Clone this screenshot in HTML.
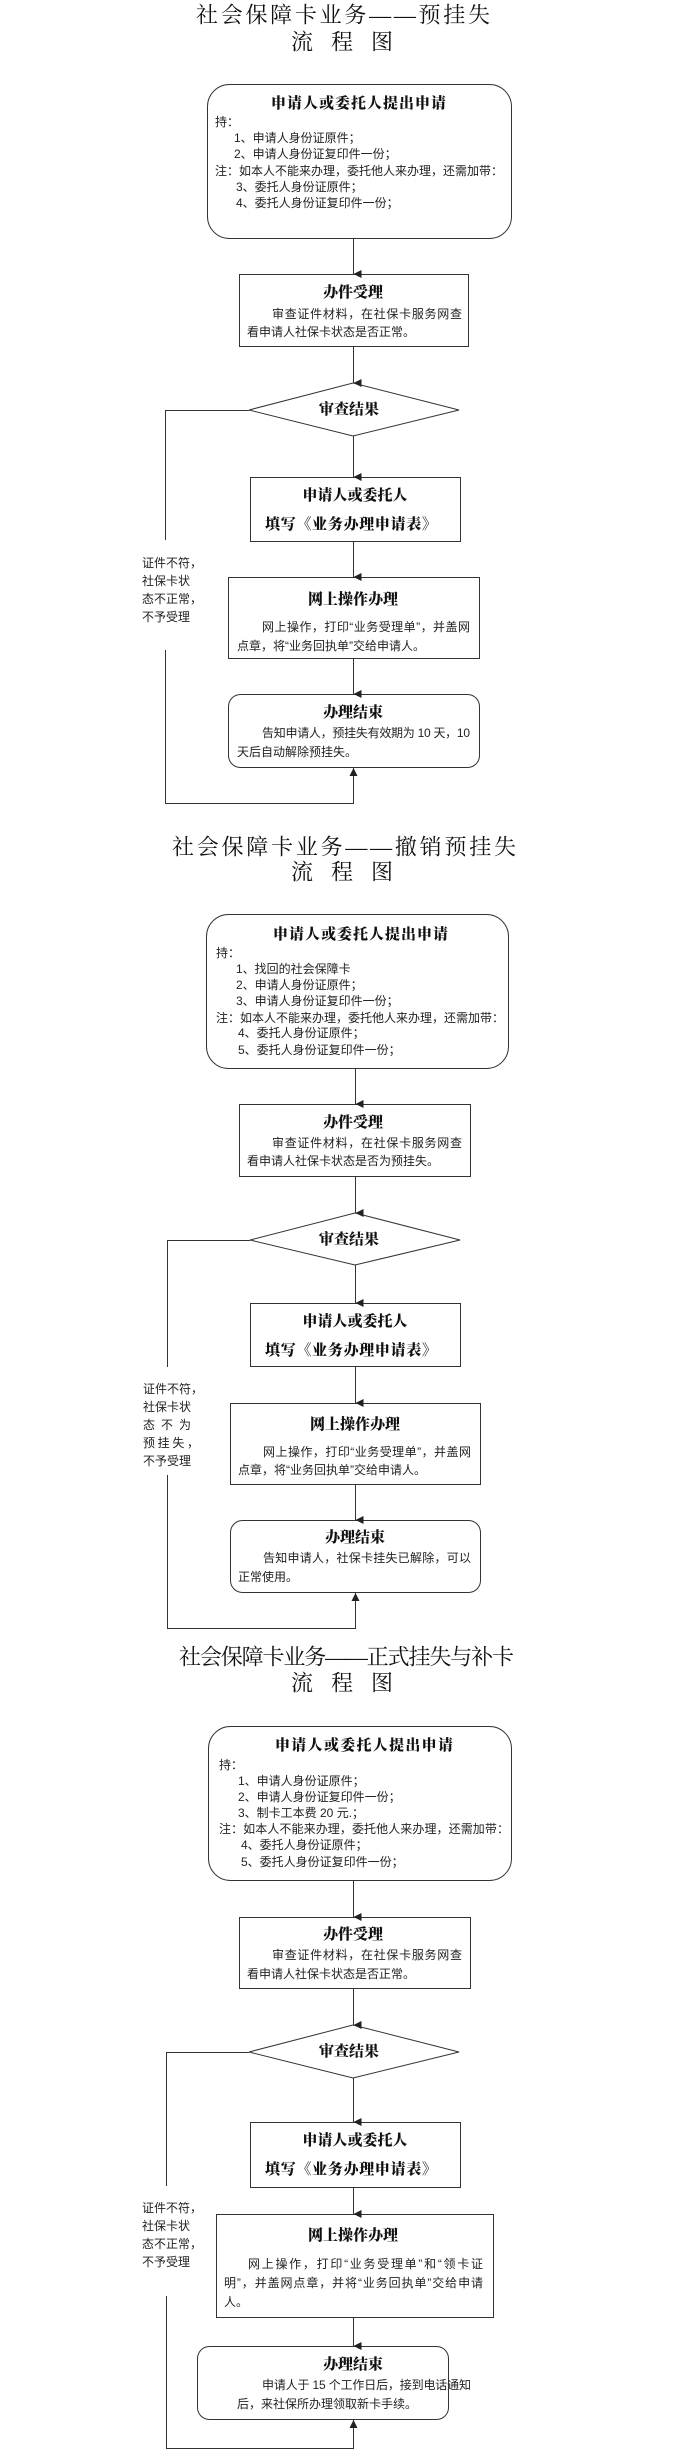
<!DOCTYPE html>
<html><head><meta charset="utf-8"><style>
html,body{margin:0;padding:0;background:#fff;}
svg{display:block;}
.t{font-family:"Liberation Serif","Noto Serif CJK SC",serif;font-size:22px;fill:#111;}
.h{font-family:"Liberation Serif","Noto Serif CJK SC",serif;font-size:15px;font-weight:900;fill:#111;}
.b{font-family:"Liberation Sans","Noto Sans CJK SC",sans-serif;font-size:12px;fill:#222;}
</style></head><body>
<svg width="690" height="2458" viewBox="0 0 690 2458" xmlns="http://www.w3.org/2000/svg">
<defs><marker id="a" markerWidth="8" markerHeight="8" refX="4" refY="8" orient="auto" markerUnits="userSpaceOnUse"><path d="M0,0 L8,0 L4,8 z" fill="#222" transform="rotate(0)"/></marker>
<marker id="u" markerWidth="8" markerHeight="8" refX="4" refY="0" markerUnits="userSpaceOnUse"><path d="M0,8 L8,8 L4,0 z" fill="#222"/></marker></defs>
<g dominant-baseline="central" stroke="none">
<!-- Section 1 -->
<text class="t" x="196" y="15" textLength="294" lengthAdjust="spacing">社会保障卡业务——预挂失</text>
<text class="t" x="302" y="42" text-anchor="middle">流</text><text class="t" x="342" y="42" text-anchor="middle">程</text><text class="t" x="382" y="42" text-anchor="middle">图</text>
<text class="h" x="271" y="104" textLength="175" lengthAdjust="spacing">申请人或委托人提出申请</text>
<text class="b" x="215" y="122">持：</text>
<text class="b" x="234" y="138">1、申请人身份证原件；</text>
<text class="b" x="234" y="154">2、申请人身份证复印件一份；</text>
<text class="b" x="215" y="171" textLength="288" lengthAdjust="spacing">注：如本人不能来办理，委托他人来办理，还需加带：</text>
<text class="b" x="236" y="187">3、委托人身份证原件；</text>
<text class="b" x="236" y="203">4、委托人身份证复印件一份；</text>
<text class="h" x="353" y="293" text-anchor="middle">办件受理</text>
<text class="b" x="272" y="314" textLength="190" lengthAdjust="spacing">审查证件材料，在社保卡服务网查</text>
<text class="b" x="247" y="332">看申请人社保卡状态是否正常。</text>
<text class="h" x="349" y="410" text-anchor="middle">审查结果</text>
<text class="h" x="355" y="496" text-anchor="middle">申请人或委托人</text>
<text class="h" x="265" y="525" textLength="172" lengthAdjust="spacing">填写《业务办理申请表》</text>
<text class="h" x="353" y="600" text-anchor="middle">网上操作办理</text>
<text class="b" x="262" y="627" textLength="208" lengthAdjust="spacing">网上操作，打印“业务受理单”，并盖网</text>
<text class="b" x="237" y="646">点章，将“业务回执单”交给申请人。</text>
<text class="h" x="353" y="713" text-anchor="middle">办理结束</text>
<text class="b" x="262" y="733" textLength="208" lengthAdjust="spacing">告知申请人，预挂失有效期为 10 天，10</text>
<text class="b" x="237" y="752">天后自动解除预挂失。</text>
<text class="b" x="142" y="563">证件不符，</text><text class="b" x="142" y="581">社保卡状</text><text class="b" x="142" y="599">态不正常，</text><text class="b" x="142" y="617">不予受理</text>
<!-- Section 2 -->
<text class="t" x="172" y="847" textLength="344" lengthAdjust="spacing">社会保障卡业务——撤销预挂失</text>
<text class="t" x="302" y="872" text-anchor="middle">流</text><text class="t" x="342" y="872" text-anchor="middle">程</text><text class="t" x="382" y="872" text-anchor="middle">图</text>
<text class="h" x="273" y="935" textLength="175" lengthAdjust="spacing">申请人或委托人提出申请</text>
<text class="b" x="216" y="953">持：</text>
<text class="b" x="236" y="969">1、找回的社会保障卡</text>
<text class="b" x="236" y="985">2、申请人身份证原件；</text>
<text class="b" x="236" y="1001">3、申请人身份证复印件一份；</text>
<text class="b" x="216" y="1018" textLength="288" lengthAdjust="spacing">注：如本人不能来办理，委托他人来办理，还需加带：</text>
<text class="b" x="238" y="1033">4、委托人身份证原件；</text>
<text class="b" x="238" y="1050">5、委托人身份证复印件一份；</text>
<text class="h" x="353" y="1123" text-anchor="middle">办件受理</text>
<text class="b" x="272" y="1143" textLength="190" lengthAdjust="spacing">审查证件材料，在社保卡服务网查</text>
<text class="b" x="247" y="1161">看申请人社保卡状态是否为预挂失。</text>
<text class="h" x="349" y="1240" text-anchor="middle">审查结果</text>
<text class="h" x="355" y="1322" text-anchor="middle">申请人或委托人</text>
<text class="h" x="265" y="1351" textLength="172" lengthAdjust="spacing">填写《业务办理申请表》</text>
<text class="h" x="355" y="1425" text-anchor="middle">网上操作办理</text>
<text class="b" x="263" y="1452" textLength="208" lengthAdjust="spacing">网上操作，打印“业务受理单”，并盖网</text>
<text class="b" x="238" y="1470">点章，将“业务回执单”交给申请人。</text>
<text class="h" x="355" y="1538" text-anchor="middle">办理结束</text>
<text class="b" x="263" y="1558" textLength="208" lengthAdjust="spacing">告知申请人，社保卡挂失已解除，可以</text>
<text class="b" x="238" y="1577">正常使用。</text>
<text class="b" x="143" y="1389">证件不符，</text><text class="b" x="143" y="1407">社保卡状</text><text class="b" x="143" y="1425" textLength="48" lengthAdjust="spacing">态不为</text><text class="b" x="143" y="1443" textLength="56" lengthAdjust="spacing">预挂失，</text><text class="b" x="143" y="1461">不予受理</text>
<!-- Section 3 -->
<text class="t" x="179" y="1657" textLength="335" lengthAdjust="spacing">社会保障卡业务——正式挂失与补卡</text>
<text class="t" x="302" y="1683" text-anchor="middle">流</text><text class="t" x="342" y="1683" text-anchor="middle">程</text><text class="t" x="382" y="1683" text-anchor="middle">图</text>
<text class="h" x="275" y="1746" textLength="178" lengthAdjust="spacing">申请人或委托人提出申请</text>
<text class="b" x="219" y="1765">持：</text>
<text class="b" x="238" y="1781">1、申请人身份证原件；</text>
<text class="b" x="238" y="1797">2、申请人身份证复印件一份；</text>
<text class="b" x="238" y="1813">3、制卡工本费 20 元.；</text>
<text class="b" x="219" y="1829" textLength="290" lengthAdjust="spacing">注：如本人不能来办理，委托他人来办理，还需加带：</text>
<text class="b" x="241" y="1845">4、委托人身份证原件；</text>
<text class="b" x="241" y="1862">5、委托人身份证复印件一份；</text>
<text class="h" x="353" y="1935" text-anchor="middle">办件受理</text>
<text class="b" x="272" y="1955" textLength="190" lengthAdjust="spacing">审查证件材料，在社保卡服务网查</text>
<text class="b" x="247" y="1974">看申请人社保卡状态是否正常。</text>
<text class="h" x="349" y="2052" text-anchor="middle">审查结果</text>
<text class="h" x="355" y="2141" text-anchor="middle">申请人或委托人</text>
<text class="h" x="265" y="2170" textLength="172" lengthAdjust="spacing">填写《业务办理申请表》</text>
<text class="h" x="353" y="2236" text-anchor="middle">网上操作办理</text>
<text class="b" x="248" y="2264" textLength="235" lengthAdjust="spacing">网上操作，打印“业务受理单”和“领卡证</text>
<text class="b" x="224" y="2283" textLength="259" lengthAdjust="spacing">明”，并盖网点章，并将“业务回执单”交给申请</text>
<text class="b" x="224" y="2302">人。</text>
<text class="h" x="353" y="2365" text-anchor="middle">办理结束</text>
<text class="b" x="262" y="2385" textLength="209" lengthAdjust="spacing">申请人于 15 个工作日后，接到电话通知</text>
<text class="b" x="237" y="2404">后，来社保所办理领取新卡手续。</text>
<text class="b" x="142" y="2208">证件不符，</text><text class="b" x="142" y="2226">社保卡状</text><text class="b" x="142" y="2244">态不正常，</text><text class="b" x="142" y="2262">不予受理</text>
</g>
<g fill="none" stroke="#333" stroke-width="1">
<!-- S1 shapes -->
<rect x="207.5" y="84.5" width="304" height="154" rx="22"/>
<rect x="239.5" y="274.5" width="229" height="72"/>
<polygon points="353,383 459,410 353,436 249,410"/>
<rect x="250.5" y="477.5" width="210" height="64"/>
<rect x="228.5" y="577.5" width="251" height="81"/>
<rect x="228.5" y="694.5" width="251" height="73" rx="12"/>
<line x1="353.5" y1="238" x2="353.5" y2="274" marker-end="url(#a)"/>
<line x1="353.5" y1="346" x2="353.5" y2="383" marker-end="url(#a)"/>
<line x1="353.5" y1="436" x2="353.5" y2="477" marker-end="url(#a)"/>
<line x1="353.5" y1="541" x2="353.5" y2="577" marker-end="url(#a)"/>
<line x1="353.5" y1="658" x2="353.5" y2="694" marker-end="url(#a)"/>
<polyline points="249,410.5 165.5,410.5 165.5,540"/>
<polyline points="165.5,650 165.5,803.5 353.5,803.5 353.5,768" marker-end="url(#u)"/>
<!-- S2 -->
<rect x="206.5" y="914.5" width="302" height="154" rx="22"/>
<rect x="239.5" y="1104.5" width="231" height="72"/>
<polygon points="355,1213 460,1240 355,1265 250,1240"/>
<rect x="250.5" y="1303.5" width="210" height="63"/>
<rect x="230.5" y="1403.5" width="250" height="81"/>
<rect x="230.5" y="1520.5" width="250" height="72" rx="12"/>
<line x1="355.5" y1="1068" x2="355.5" y2="1104" marker-end="url(#a)"/>
<line x1="355.5" y1="1176" x2="355.5" y2="1213" marker-end="url(#a)"/>
<line x1="355.5" y1="1265" x2="355.5" y2="1303" marker-end="url(#a)"/>
<line x1="355.5" y1="1366" x2="355.5" y2="1403" marker-end="url(#a)"/>
<line x1="355.5" y1="1484" x2="355.5" y2="1520" marker-end="url(#a)"/>
<polyline points="250,1240.5 167.5,1240.5 167.5,1367"/>
<polyline points="167.5,1475 167.5,1628.5 355.5,1628.5 355.5,1593" marker-end="url(#u)"/>
<!-- S3 -->
<rect x="208.5" y="1726.5" width="303" height="154" rx="22"/>
<rect x="239.5" y="1917.5" width="231" height="71"/>
<polygon points="353,2025 459,2052 353,2078 249,2052"/>
<rect x="250.5" y="2122.5" width="210" height="65"/>
<rect x="216.5" y="2214.5" width="277" height="103"/>
<rect x="197.5" y="2346.5" width="251" height="73" rx="12"/>
<line x1="353.5" y1="1880" x2="353.5" y2="1917" marker-end="url(#a)"/>
<line x1="353.5" y1="1988" x2="353.5" y2="2025" marker-end="url(#a)"/>
<line x1="353.5" y1="2078" x2="353.5" y2="2122" marker-end="url(#a)"/>
<line x1="353.5" y1="2187" x2="353.5" y2="2214" marker-end="url(#a)"/>
<line x1="353.5" y1="2317" x2="353.5" y2="2346" marker-end="url(#a)"/>
<polyline points="249,2052.5 166.5,2052.5 166.5,2186"/>
<polyline points="166.5,2296 166.5,2448.5 353.5,2448.5 353.5,2420" marker-end="url(#u)"/>
</g>
</svg>
</body></html>
